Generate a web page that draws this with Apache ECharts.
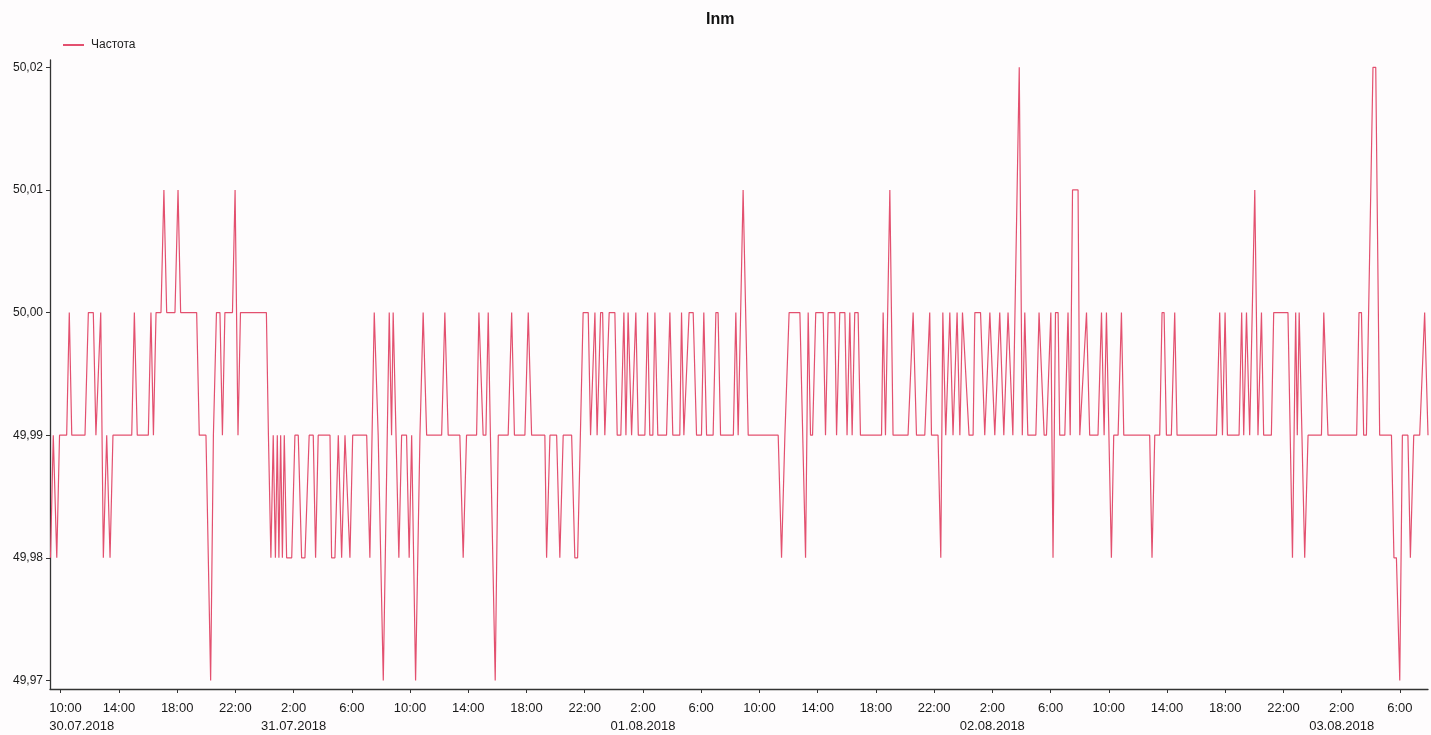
<!DOCTYPE html>
<html><head><meta charset="utf-8">
<script src="https://cdn.jsdelivr.net/npm/echarts@6/dist/echarts.min.js"></script>
<style>html,body{margin:0;padding:0;background:#fefcfd}#c{width:1431px;height:735px}</style>
</head><body><div id="c"></div>
<script>
const chartTitle = 'Inm';
const seriesName = 'Частота';
// time in hours since 30.07.2018 00:00
const hours = [
9.30,9.49,9.73,9.92,10.41,10.59,10.76,11.67,11.90,12.24,12.42,12.75,12.93,13.16,13.39,13.59,14.88,15.06,15.26,16.02,
16.20,16.37,16.55,16.89,17.09,17.28,17.85,18.06,18.24,19.34,19.52,19.98,20.30,20.49,20.70,20.94,21.11,21.28,21.80,21.98,
22.18,22.35,24.13,24.27,24.44,
24.60,24.75,24.88,24.99,25.11,25.23,25.36,25.52,25.87,26.09,26.32,26.55,26.78,27.07,27.35,27.51,27.69,28.50,28.61,28.84,
29.07,29.18,29.30,29.53,29.64,29.87,30.06,31.02,31.24,31.54,31.81,32.16,32.57,32.73,32.84,33.23,33.42,33.76,33.94,34.11,
34.38,34.68,34.90,35.14,36.17,36.39,36.62,37.42,37.65,37.88,38.57,38.73,39.02,39.21,39.37,39.52,39.85,40.06,
40.74,40.98,41.17,41.89,42.12,42.35,43.26,43.38,43.61,44.07,44.29,44.52,45.10,45.32,45.51,45.89,46.24,46.40,46.70,46.85,
47.09,47.23,47.38,47.68,48.07,48.23,48.48,48.69,48.83,48.98,49.22,49.34,49.51,49.68,50.13,50.32,50.47,50.68,50.82,51.02,
51.62,51.85,52.05,52.53,52.65,52.81,53.17,53.45,53.68,54.02,54.18,54.37,54.82,55.01,55.16,55.33,56.21,56.38,56.54,56.88,57.23,
59.29,59.52,59.75,60.04,60.78,61.17,61.35,61.51,61.65,61.87,62.38,62.54,62.72,63.18,63.30,63.52,63.87,64.02,64.21,64.37,
64.55,64.78,64.94,66.39,66.50,66.66,66.96,67.18,68.21,68.56,68.79,69.36,69.70,69.82,70.27,70.46,70.60,70.80,71.08,71.30,
71.58,71.77,71.95,72.40,72.68,72.80,73.19,73.48,73.83,74.17,74.51,74.79,75.08,75.41,75.85,76.06,76.23,76.44,76.99,77.21,
77.33,77.56,77.72,78.02,78.17,78.34,78.52,78.63,78.98,79.20,79.35,79.51,79.89,80.01,80.47,80.69,81.26,81.50,81.68,81.84,
82.18,82.34,82.64,82.87,83.03,84.81,84.97,85.16,85.50,85.66,85.80,85.96,86.30,86.53,86.69,89.40,89.62,89.81,89.99,90.15,
90.95,91.13,91.27,91.46,91.68,92.03,92.25,92.49,92.64,93.17,93.33,94.31,94.62,94.84,94.95,95.08,95.46,95.69,96.61,96.77,
96.90,97.06,99.03,99.19,99.36,99.51,99.70,100.15,100.34,100.61,101.42,101.59,101.76,101.99,102.17,102.55,102.72,102.95,103.36,103.70,
103.93
];
const freq = [
49.98,49.99,49.98,49.99,49.99,50.00,49.99,49.99,50.00,50.00,49.99,50.00,49.98,49.99,49.98,49.99,49.99,50.00,49.99,49.99,
50.00,49.99,50.00,50.00,50.01,50.00,50.00,50.01,50.00,50.00,49.99,49.99,49.97,49.99,50.00,50.00,49.99,50.00,50.00,50.01,
49.99,50.00,50.00,49.99,49.98,
49.99,49.98,49.99,49.98,49.99,49.98,49.99,49.98,49.98,49.99,49.99,49.98,49.98,49.99,49.99,49.98,49.99,49.99,49.98,49.98,
49.99,49.99,49.98,49.99,49.99,49.98,49.99,49.99,49.98,50.00,49.99,49.97,50.00,49.99,50.00,49.98,49.99,49.99,49.98,49.99,
49.97,49.99,50.00,49.99,49.99,50.00,49.99,49.99,49.98,49.99,49.99,50.00,49.99,49.99,50.00,49.99,49.97,49.99,
49.99,50.00,49.99,49.99,50.00,49.99,49.99,49.98,49.99,49.99,49.98,49.99,49.99,49.98,49.98,50.00,50.00,49.99,50.00,49.99,
50.00,50.00,49.99,50.00,50.00,49.99,49.99,50.00,49.99,50.00,49.99,49.99,50.00,49.99,49.99,50.00,49.99,49.99,50.00,49.99,
49.99,50.00,49.99,49.99,50.00,49.99,50.00,50.00,49.99,49.99,50.00,49.99,49.99,50.00,50.00,49.99,49.99,50.00,49.99,50.01,49.99,
49.99,49.98,49.99,50.00,50.00,49.98,50.00,49.99,49.99,50.00,50.00,49.99,50.00,50.00,49.99,50.00,50.00,49.99,50.00,49.99,
50.00,50.00,49.99,49.99,50.00,49.99,50.01,49.99,49.99,50.00,49.99,49.99,50.00,49.99,49.99,49.98,50.00,49.99,50.00,49.99,
50.00,49.99,50.00,49.99,49.99,50.00,50.00,49.99,50.00,49.99,50.00,49.99,50.00,49.99,50.02,49.99,50.00,49.99,49.99,50.00,
50.00,49.99,49.99,50.00,49.98,50.00,50.00,49.99,49.99,50.00,49.99,50.01,50.01,49.99,50.00,49.99,49.99,50.00,49.99,50.00,
49.98,49.99,49.99,50.00,49.99,49.99,49.98,49.99,49.99,50.00,50.00,49.99,49.99,50.00,49.99,49.99,50.00,49.99,50.00,49.99,
49.99,50.00,49.99,50.00,49.99,50.01,49.99,50.00,49.99,49.99,50.00,50.00,49.98,50.00,49.99,50.00,49.98,49.99,49.99,50.00,
50.00,49.99,49.99,50.00,50.00,49.99,49.99,50.02,50.02,49.99,49.99,49.98,49.98,49.97,49.99,49.99,49.98,49.99,49.99,50.00,
49.99
];
const xTickHours = [10,14,18,22,26,30,34,38,42,46,50,54,58,62,66,70,74,78,82,86,90,94,98,102];
const xTickLabels = ['10:00','14:00','18:00','22:00','2:00\n31.07.2018','6:00','10:00','14:00','18:00','22:00',
  '2:00\n01.08.2018','6:00','10:00','14:00','18:00','22:00','2:00\n02.08.2018','6:00','10:00','14:00','18:00','22:00',
  '2:00\n03.08.2018','6:00'];
const firstDateLabel = '30.07.2018';
const yTicks = [49.97,49.98,49.99,50.00,50.01,50.02];
const xMin = 9.265, xMax = 103.93;
const yMin = 49.9693, yMax = 50.0206;

const font = "'Liberation Sans', Arial, sans-serif";
const lineColor = '#e3506f';
const axisColor = '#333';
const labelColor = '#1a1a1a';
const richFirst = {first: {width: 23, align: 'left', fontSize: 13, lineHeight: 17.5, color: labelColor, fontFamily: font}};

const chart = echarts.init(document.getElementById('c'), null, {renderer: 'canvas'});
chart.setOption({
  animation: false,
  backgroundColor: '#fefcfd',
  title: {text: chartTitle, left: 701, top: 7,
    textStyle: {fontSize: 16, fontWeight: 'bold', color: '#111', fontFamily: font}},
  legend: {left: 58, top: 34, icon: 'rect', itemWidth: 21, itemHeight: 2,
    textStyle: {fontSize: 12, color: '#222', fontFamily: font, padding: [0,0,0,2]},
    data: [seriesName]},
  grid: {left: 50, right: 3, top: 60, bottom: 44},
  xAxis: [{
    type: 'value', position: 'bottom', min: xMin, max: xMax,
    axisLine: {lineStyle: {color: axisColor, width: 1.3}},
    axisTick: {show: true, length: 4, customValues: xTickHours, lineStyle: {color: axisColor}},
    splitLine: {show: false},
    axisLabel: {
      customValues: xTickHours, hideOverlap: false,
      color: labelColor, fontSize: 13, lineHeight: 17.5, margin: 11, fontFamily: font,
      rich: richFirst,
      formatter: function (v) {
        const i = xTickHours.indexOf(v);
        if (i === 0) return '{first|' + xTickLabels[0] + '}';
        return i >= 0 ? xTickLabels[i] : '';
      }
    }
  }, {
    type: 'value', position: 'bottom', offset: 0, min: xMin, max: xMax,
    axisLine: {show: false}, axisTick: {show: false}, splitLine: {show: false},
    axisLabel: {
      customValues: [xTickHours[0]], showMinLabel: true,
      color: labelColor, fontSize: 13, lineHeight: 17.5, margin: 28.5, fontFamily: font,
      rich: richFirst,
      formatter: function () { return '{first|' + firstDateLabel + '}'; }
    }
  }],
  yAxis: {
    type: 'value', min: yMin, max: yMax,
    axisLine: {show: true, lineStyle: {color: axisColor, width: 1.3}},
    axisTick: {show: true, length: 4, customValues: yTicks, lineStyle: {color: axisColor}},
    splitLine: {show: false},
    axisLabel: {customValues: yTicks, showMinLabel: true, showMaxLabel: true,
      color: labelColor, fontSize: 12, margin: 7, fontFamily: font,
      formatter: function (v) { return v.toFixed(2).replace('.', ','); }}
  },
  series: [{
    name: seriesName, type: 'line', xAxisIndex: 0, showSymbol: false, symbol: 'none',
    lineStyle: {color: lineColor, width: 1.2}, itemStyle: {color: lineColor},
    data: hours.map(function (h, i) { return [h, freq[i]]; })
  }]
});
</script></body></html>
